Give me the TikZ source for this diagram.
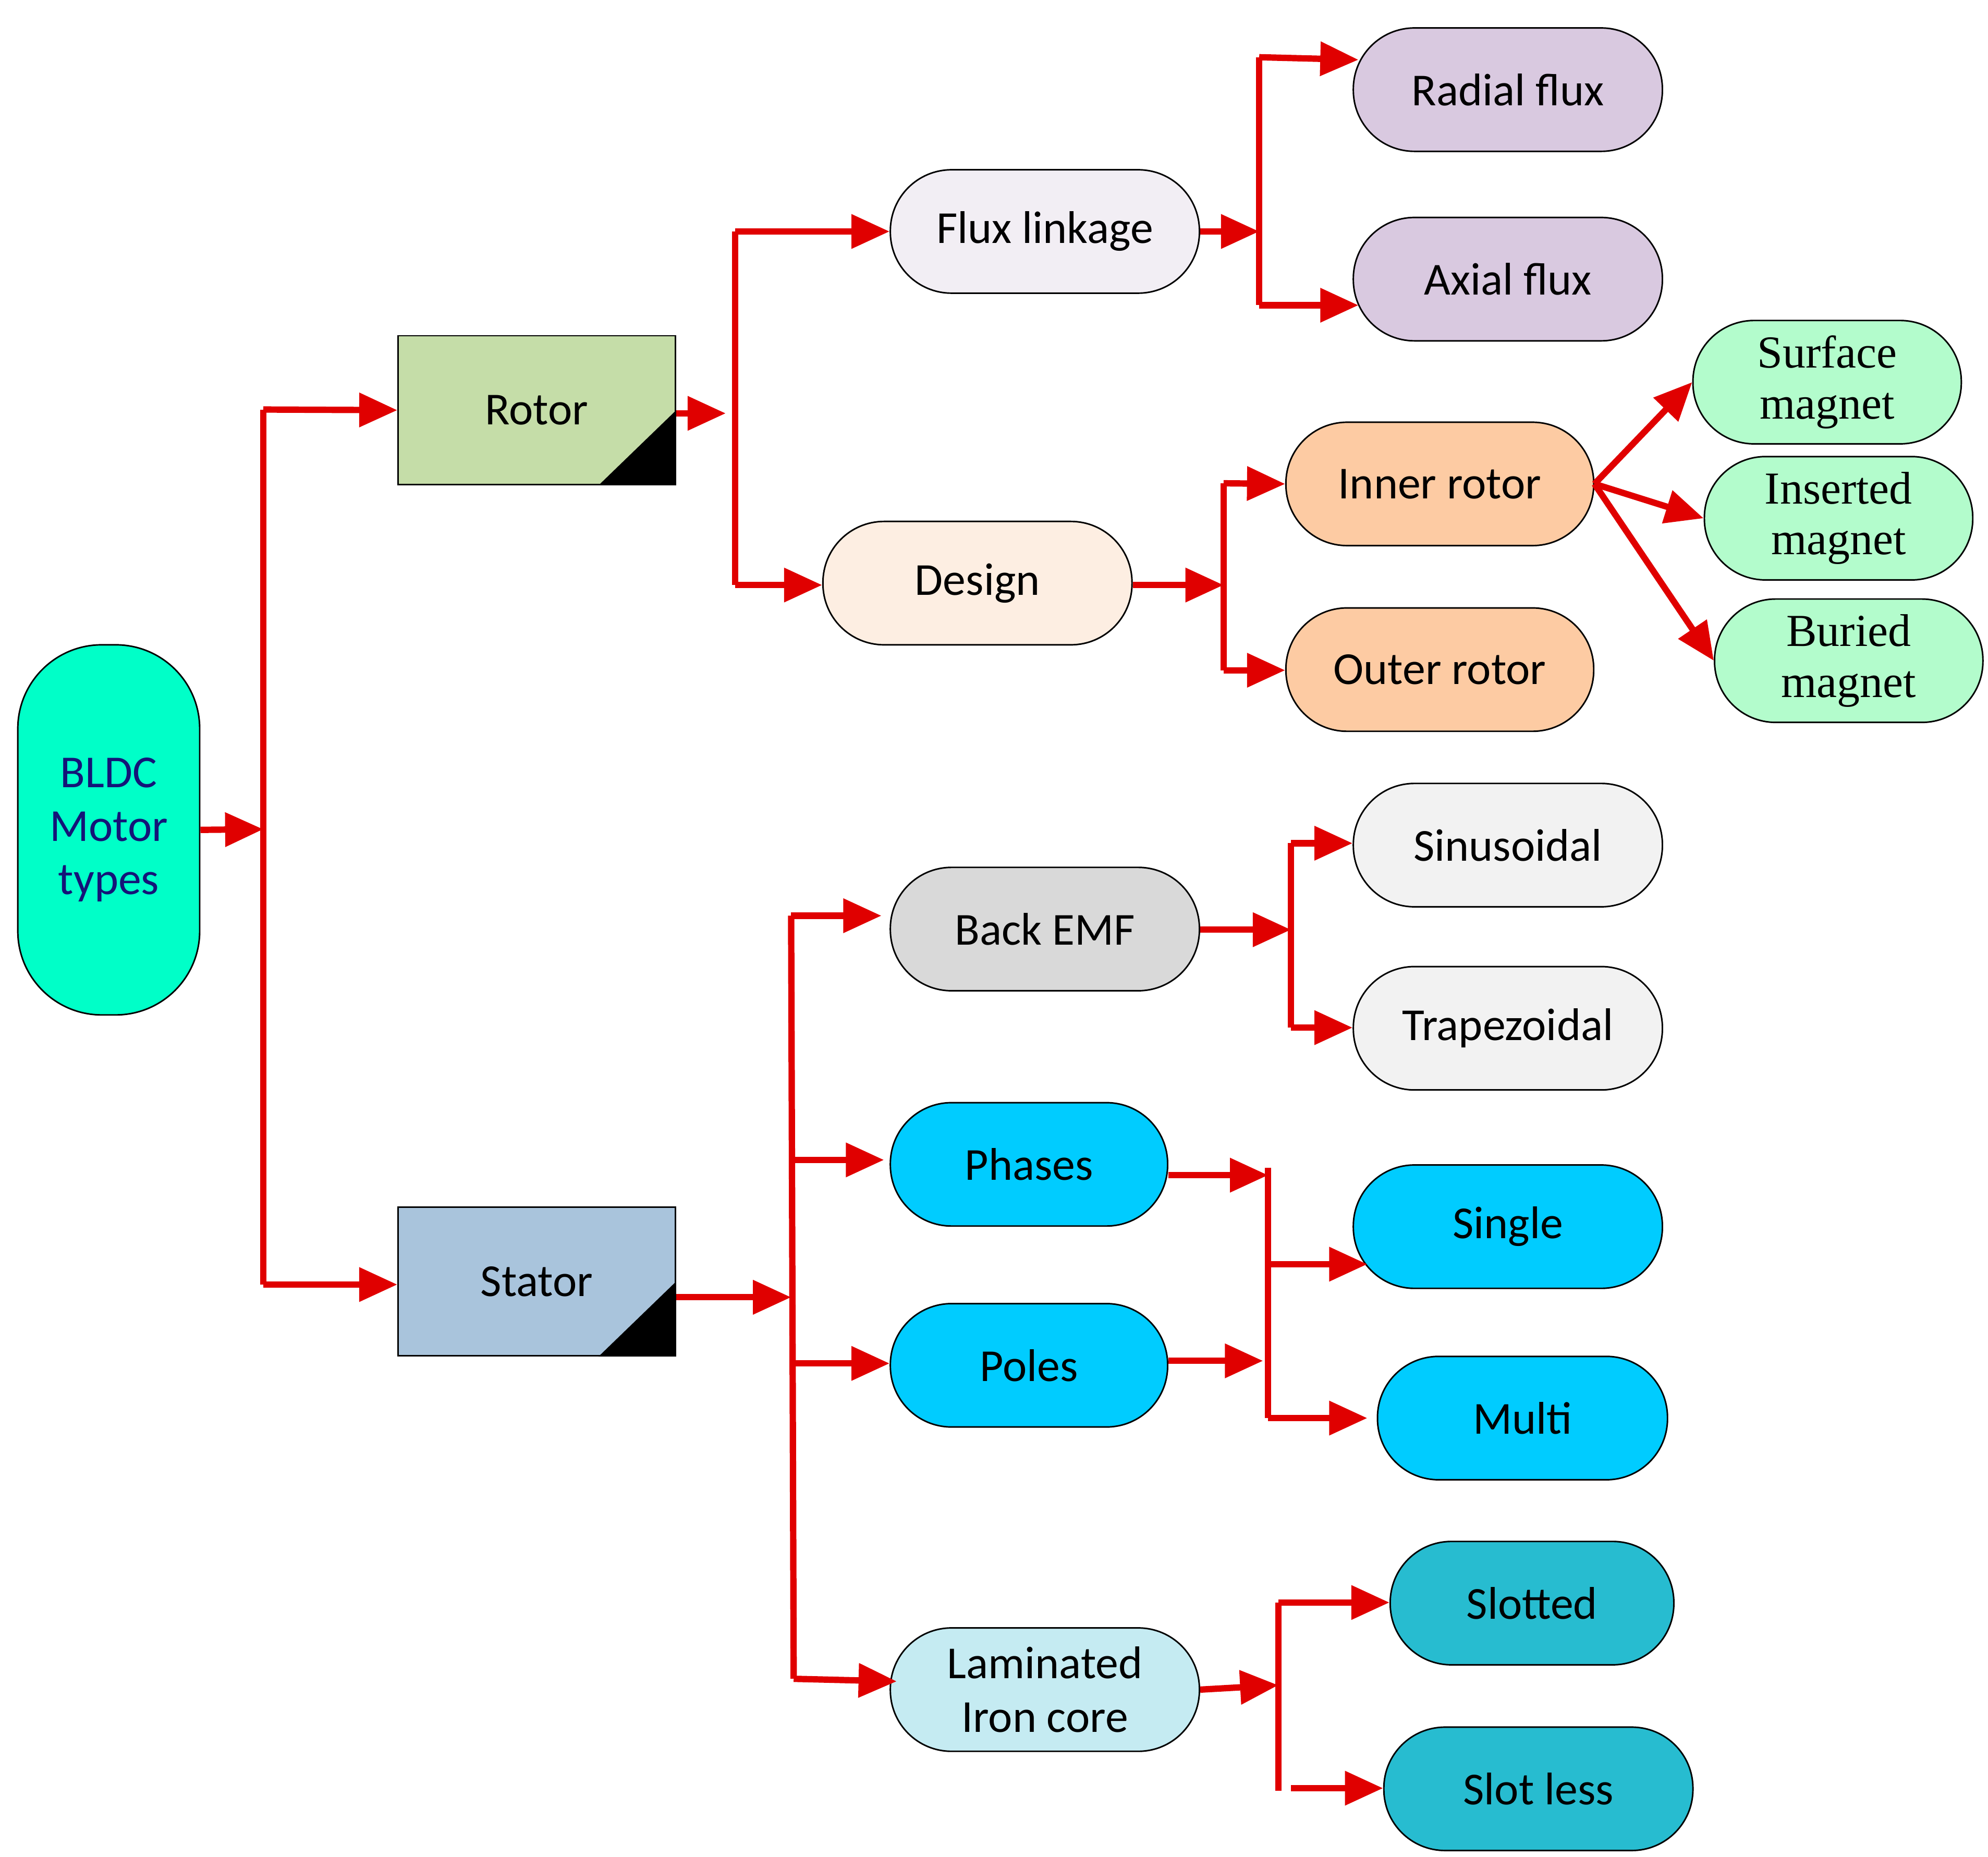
\documentclass[tikz,border=0pt]{standalone}
\usepackage{fontspec}
\setmainfont{Carlito}
\newfontfamily\serif{Liberation Serif}
\usetikzlibrary{arrows.meta}
\begin{document}
\begin{tikzpicture}[x=0.5pt,y=-0.5pt,
 box/.style={draw=black,line width=0.6pt,inner sep=0pt,align=center,font=\fontsize{18}{21}\selectfont},
 pill/.style={box,rounded corners=24pt,minimum height=48.5pt,minimum width=121.5pt},
 arr/.style={draw={rgb,255:red,224;green,0;blue,0},line width=2.5pt,-{Triangle[length=15pt,width=13pt]}},
 ln/.style={draw={rgb,255:red,224;green,0;blue,0},line width=2.5pt}]
\useasboundingbox (0,0) rectangle (1563,1460);
\node[box,rounded corners=33pt,minimum width=71.5pt,minimum height=145.5pt,fill={rgb,255:red,0;green,255;blue,200},text={rgb,255:red,20;green,20;blue,120}] (BLDC) at (85.5,652.5) {BLDC\\Motor\\types};
\node[box,minimum width=109pt,minimum height=58.5pt,fill={rgb,255:red,197;green,221;blue,168}] (Rotor) at (422,322.5) {Rotor};
\node[box,minimum width=109pt,minimum height=58.5pt,fill={rgb,255:red,169;green,196;blue,220}] (Stator) at (422,1007.5) {Stator};
\fill (Rotor.south east) -- ++(-61,0) -- ++(61,-59) -- cycle;
\fill (Stator.south east) -- ++(-61,0) -- ++(61,-59) -- cycle;
\node[pill,fill={rgb,255:red,242;green,238;blue,244}] (Flux) at (821.5,182) {Flux linkage};
\node[pill,fill={rgb,255:red,253;green,238;blue,226}] (Design) at (768.5,458.5) {Design};
\node[pill,fill={rgb,255:red,217;green,201;blue,224}] (Radial) at (1185.5,70.5) {Radial flux};
\node[pill,fill={rgb,255:red,217;green,201;blue,224}] (Axial) at (1185.5,219.5) {Axial flux};
\node[pill,fill={rgb,255:red,253;green,203;blue,163},minimum width=121pt] (Inner) at (1132,380.5) {Inner rotor};
\node[pill,fill={rgb,255:red,253;green,203;blue,163},minimum width=121pt] (Outer) at (1132,526.5) {Outer rotor};
\node[pill,fill={rgb,255:red,179;green,252;blue,204},minimum width=105.5pt,font=\serif\fontsize{18}{20}\selectfont] (Surface) at (1436.5,300.5) {Surface\\magnet};
\node[pill,fill={rgb,255:red,179;green,252;blue,204},minimum width=105.5pt,font=\serif\fontsize{18}{20}\selectfont] (Inserted) at (1445.5,407.5) {Inserted\\magnet};
\node[pill,fill={rgb,255:red,179;green,252;blue,204},minimum width=105.5pt,font=\serif\fontsize{18}{20}\selectfont] (Buried) at (1453.5,519.5) {Buried\\magnet};
\node[pill,fill={rgb,255:red,217;green,217;blue,217}] (Back) at (821.5,730.5) {Back EMF};
\node[pill,fill={rgb,255:red,242;green,242;blue,242}] (Sinus) at (1185.5,664.5) {Sinusoidal};
\node[pill,fill={rgb,255:red,242;green,242;blue,242}] (Trap) at (1185.5,808.5) {Trapezoidal};
\node[pill,fill={rgb,255:red,0;green,204;blue,255},minimum width=109pt] (Phases) at (809,915.5) {Phases};
\node[pill,fill={rgb,255:red,0;green,204;blue,255},minimum width=109pt] (Poles) at (809,1073.5) {Poles};
\node[pill,fill={rgb,255:red,0;green,204;blue,255}] (Single) at (1185.5,964.5) {Single};
\node[pill,fill={rgb,255:red,0;green,204;blue,255},minimum width=114pt] (Multi) at (1197,1115) {Multi};
\node[pill,fill={rgb,255:red,197;green,235;blue,242}] (Lam) at (821.5,1328.5) {Laminated\\Iron core};
\node[pill,fill={rgb,255:red,39;green,188;blue,208},minimum width=111.5pt] (Slotted) at (1204.5,1260.5) {Slotted};
\node[pill,fill={rgb,255:red,39;green,188;blue,208}] (Slotless) at (1209.5,1406.5) {Slot less};
% junctions
\coordinate (j1) at (207,652);
\coordinate (j2) at (578,325);
\coordinate (j3) at (990,182);
\coordinate (j4) at (962,460);
\coordinate (j5) at (622,1020);
\coordinate (j6) at (1015,731);
\coordinate (j7) at (997,924);
\coordinate (j7b) at (997,1070);
\coordinate (j8) at (1005,1325);
\draw[arr] (BLDC.east) -- (j1);
\draw[ln] (207,322) -- (207,1010);
\draw[arr] (207,322) -- (Rotor.west);
\draw[arr] (207,1010) -- (Stator.west |- 0,1010);
\draw[arr] (Rotor.east |- j2) -- ++(39,0);
\draw[ln] (578,182) -- (578,460);
\draw[arr] (578,182) -- (Flux.west);
\draw[arr] (578,460) -- (Design.west |- 0,460);
\draw[arr] (Flux.east) -- (j3);
\draw[ln] (990,45) -- (990,240);
\draw[arr] (990,45) -- (1068,47);
\draw[arr] (990,240) -- (1068,240);
\draw[arr] (Design.east |- j4) -- (j4);
\draw[ln] (962,380) -- (962,527);
\draw[arr] (962,380) -- (Inner.west);
\draw[arr] (962,527) -- (Outer.west |- 0,527);
\draw[arr] (Inner.east) -- (Surface.west);
\draw[arr] (Inner.east) -- (Inserted.west);
\draw[arr] (Inner.east) -- (Buried.west);
\draw[arr] (Stator.east |- j5) -- (j5);
\draw[ln] (622,720) -- (624,1320);
\draw[arr] (622,720) -- (693,720);
\draw[arr] (623,912) -- (695,912);
\draw[arr] (623,1072) -- (Poles.west |- 0,1072);
\draw[arr] (624,1320) -- (705,1322);
\draw[arr] (Back.east |- j6) -- (j6);
\draw[ln] (1015,663) -- (1015,808);
\draw[arr] (1015,663) -- (Sinus.west |- 0,663);
\draw[arr] (1015,808) -- (Trap.west |- 0,808);
\draw[arr] (Phases.east |- j7) -- (j7);
\draw[arr] (Poles.east |- j7b) -- (993,1070);
\draw[ln] (997,918) -- (997,1115);
\draw[arr] (997,994) -- (1075,994);
\draw[arr] (997,1115) -- (1075,1115);
\draw[arr] (Lam.east) -- (j8);
\draw[ln] (1005,1260) -- (1005,1408);
\draw[arr] (1005,1260) -- (Slotted.west |- 0,1260);
\draw[ln] (1015,1406) -- (1020,1406);
\draw[arr] (1015,1406) -- (Slotless.west |- 0,1406);
\end{tikzpicture}
\end{document}
